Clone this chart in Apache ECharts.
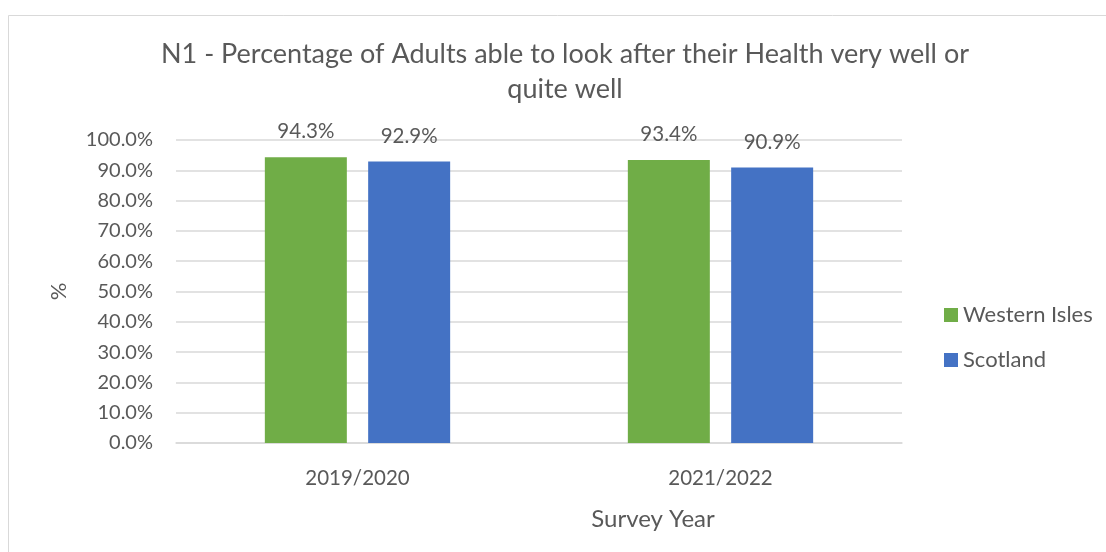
<!DOCTYPE html>
<html>
<head>
<meta charset="utf-8">
<title>N1 - Percentage of Adults able to look after their Health</title>
<script src="https://cdn.jsdelivr.net/npm/echarts@6/dist/echarts.min.js"></script>
<style>
  html, body { margin: 0; padding: 0; background: #ffffff; }
  #chart { width: 1106px; height: 552px; }
</style>
</head>
<body>
<div id="chart"></div>
<script>
// Survey years on the category axis
const surveyYears = ['2019/2020', '2021/2022'];

// Share of adults (%) who can look after their health very / quite well
const westernIsles = [94.3, 93.4];
const scotland = [92.9, 90.9];

// Value-axis range and step (percent)
const yMin = 0;
const yMax = 100;
const yStep = 10;

const FONT = 'Lato';
const TEXT = '#595959';
const GRID = '#d9d9d9';

const chart = echarts.init(document.getElementById('chart'), null, { renderer: 'canvas' });

const labelOpts = {
  show: true,
  position: 'top',
  distance: 15,
  fontFamily: FONT,
  fontSize: 20.5,
  color: TEXT,
  formatter: p => p.value.toFixed(1) + '%'
};

chart.setOption({
  animation: false,
  backgroundColor: '#ffffff',
  textStyle: { fontFamily: FONT },
  graphic: [{
    type: 'rect',
    shape: { x: 8.5, y: 15.5, width: 1200, height: 600 },
    style: { fill: 'none', stroke: GRID, lineWidth: 1 },
    silent: true,
    z: -1
  }],
  title: {
    text: 'N1 - Percentage of Adults able to look after their Health very well or\nquite well',
    left: 560,
    top: 32,
    textAlign: 'center',
    textStyle: {
      fontFamily: FONT,
      fontSize: 27,
      fontWeight: 'normal',
      color: TEXT,
      lineHeight: 35
    }
  },
  legend: {
    orient: 'vertical',
    left: 944,
    top: 304,
    padding: 0,
    itemWidth: 14,
    itemHeight: 14,
    itemGap: 23,
    icon: 'rect',
    textStyle: { fontFamily: FONT, fontSize: 22, color: TEXT },
    data: ['Western Isles', 'Scotland']
  },
  grid: { left: 176, right: 204, top: 140, bottom: 109 },
  xAxis: {
    type: 'category',
    data: surveyYears,
    name: 'Survey Year',
    nameLocation: 'middle',
    nameGap: 64,
    nameTextStyle: { fontFamily: FONT, fontSize: 24, color: TEXT, padding: [0, 0, 0, 228] },
    axisLine: { show: true, lineStyle: { color: GRID, width: 1.5 } },
    axisTick: { show: false },
    axisLabel: { margin: 25, fontFamily: FONT, fontSize: 20.5, color: TEXT }
  },
  yAxis: {
    type: 'value',
    min: yMin,
    max: yMax,
    interval: yStep,
    name: '%',
    nameLocation: 'middle',
    nameGap: 106,
    nameTextStyle: { fontFamily: FONT, fontSize: 22, color: TEXT },
    axisLine: { show: false },
    axisTick: { show: false },
    splitLine: { lineStyle: { color: GRID, width: 1.5 } },
    axisLabel: {
      margin: 23,
      fontFamily: FONT,
      fontSize: 20,
      color: TEXT,
      formatter: v => v.toFixed(1) + '%'
    }
  },
  series: [
    {
      name: 'Western Isles',
      type: 'bar',
      data: westernIsles,
      barWidth: 82,
      barGap: '26%',
      itemStyle: { color: '#70ad47' },
      label: labelOpts
    },
    {
      name: 'Scotland',
      type: 'bar',
      data: scotland,
      barWidth: 82,
      barGap: '26%',
      itemStyle: { color: '#4472c4' },
      label: labelOpts
    }
  ]
});
</script>
</body>
</html>
